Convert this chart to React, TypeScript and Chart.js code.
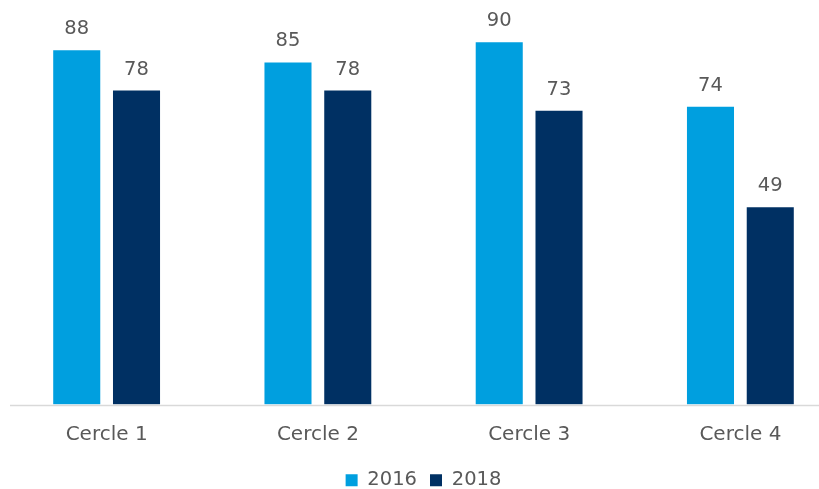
import React, { useEffect, useRef } from "react";
import { Chart, registerables } from "chart.js";

Chart.register(...registerables);

const categories = ["Cercle 1", "Cercle 2", "Cercle 3", "Cercle 4"];
const seriesLabels = ["2016", "2018"];
const values2016 = [88, 85, 90, 74];
const values2018 = [78, 78, 73, 49];
const colors = ["#009FDF", "#003063"];

const FONT = "'DejaVu Sans', Verdana, sans-serif";
const TEXT = "#595959";

const dataLabelPlugin = {
  id: "dataLabels",
  afterDatasetsDraw(chart: any) {
    const ctx = chart.ctx;
    ctx.save();
    ctx.font = `19.5px ${FONT}`;
    ctx.fillStyle = TEXT;
    ctx.textAlign = "center";
    ctx.textBaseline = "middle";
    chart.data.datasets.forEach((ds: any, i: number) => {
      const meta = chart.getDatasetMeta(i);
      meta.data.forEach((el: any, j: number) => {
        ctx.fillText(String(ds.data[j]), el.x, el.y - 21);
      });
    });
    ctx.restore();
  },
};

const axisLinePlugin = {
  id: "axisLine",
  afterDatasetsDraw(chart: any) {
    const ctx = chart.ctx;
    const y = Math.round(chart.chartArea.bottom) + 0.5;
    ctx.save();
    ctx.strokeStyle = "#D9D9D9";
    ctx.lineWidth = 1.5;
    ctx.beginPath();
    ctx.moveTo(10, y);
    ctx.lineTo(819, y);
    ctx.stroke();
    ctx.restore();
  },
};

export default function App() {
  const ref = useRef<HTMLCanvasElement>(null);
  useEffect(() => {
    document.body.style.margin = "0";
    const chart = new Chart(ref.current!, {
      type: "bar",
      data: {
        labels: categories,
        datasets: [
          {
            label: seriesLabels[0],
            data: values2016,
            backgroundColor: colors[0],
            categoryPercentage: 0.566,
            barPercentage: 0.787,
          },
          {
            label: seriesLabels[1],
            data: values2018,
            backgroundColor: colors[1],
            categoryPercentage: 0.566,
            barPercentage: 0.787,
          },
        ],
      },
      plugins: [dataLabelPlugin, axisLinePlugin],
      options: {
        animation: false,
        responsive: false,
        maintainAspectRatio: false,
        layout: { padding: { left: 1, right: 1, top: 2, bottom: 0 } },
        plugins: {
          tooltip: { enabled: false },
          legend: {
            position: "bottom",
            labels: {
              boxWidth: 12,
              boxHeight: 12,
              padding: 13,
              color: TEXT,
              font: { family: FONT, size: 19.5 },
            },
          },
        },
        scales: {
          x: {
            grid: { display: false, drawTicks: false },
            border: { display: false },
            ticks: {
              color: TEXT,
              font: { family: FONT, size: 20 },
              padding: 18,
            },
            afterFit(scale: any) {
              scale.height = scale.height - 7;
            },
          },
          y: {
            display: false,
            min: 0,
            max: 100,
          },
        },
      },
    });
    return () => chart.destroy();
  }, []);
  return (
    <div style={{ width: 819, height: 489, position: "relative", overflow: "hidden" }}>
      <canvas ref={ref} width={847} height={500} style={{ display: "block" }} />
    </div>
  );
}
